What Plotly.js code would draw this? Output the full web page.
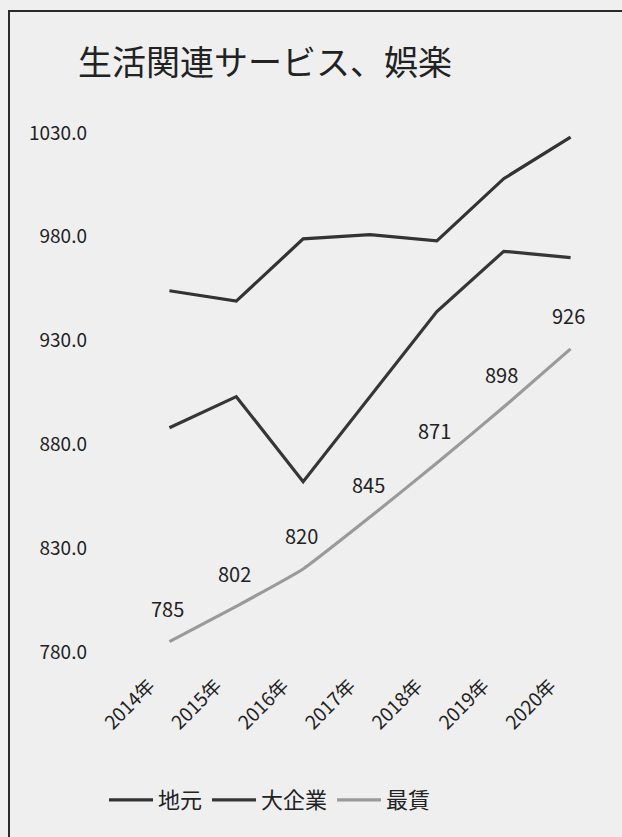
<!DOCTYPE html>
<html>
<head>
<meta charset="utf-8">
<script src="https://cdn.plot.ly/plotly-3.0.1.min.js"></script>
<style>
  html, body { margin:0; padding:0; width:622px; height:837px; overflow:hidden; background:#efefef; }
  #chart { position:absolute; left:0; top:0; width:622px; height:837px; }
  #frame { position:absolute; left:8px; top:10px; width:700px; height:900px; border:2px solid #2a2a2a; pointer-events:none; }
</style>
</head>
<body>
<div id="chart"></div>
<div id="frame"></div>
<script>
const categories = ['2014年','2015年','2016年','2017年','2018年','2019年','2020年'];
const jimoto = [954, 949, 979, 981, 978, 1008, 1028];
const daikigyo = [888, 903, 862, 903, 944, 973, 970];
const saichin = [785, 802, 820, 845, 871, 898, 926];
const yTicks = [780, 830, 880, 930, 980, 1030];
const seriesNames = ['地元', '大企業', '最賃'];

const font = 'Noto Sans CJK JP, Noto Sans, sans-serif';

const traces = [
  { x: categories, y: jimoto, name: seriesNames[0], type: 'scatter', mode: 'lines',
    line: { color: '#333333', width: 3.2 } },
  { x: categories, y: daikigyo, name: seriesNames[1], type: 'scatter', mode: 'lines',
    line: { color: '#363636', width: 3.2 } },
  { x: categories, y: saichin, name: seriesNames[2], type: 'scatter', mode: 'lines',
    line: { color: '#9a9a9a', width: 3.2, shape: 'spline', smoothing: 0.4 } }
];

const annotations = saichin.map((v, i) => ({
  x: categories[i], y: v, xref: 'x', yref: 'y',
  text: String(v), showarrow: false, yshift: 33, xshift: -2,
  font: { family: font, size: 20, color: '#222' }
}));

const layout = {
  width: 622, height: 837,
  paper_bgcolor: '#efefef', plot_bgcolor: 'rgba(0,0,0,0)',
  margin: { l: 136, r: 18, t: 133, b: 185 },
  font: { family: font, color: '#222' },
  title: { text: '生活関連サービス、娯楽', x: 265/622, xref: 'container', xanchor: 'center',
           y: 1 - 63/837, yref: 'container', yanchor: 'middle',
           font: { family: font, size: 34, color: '#222' } },
  xaxis: { type: 'category', range: [-0.5, 6.5], showgrid: false, zeroline: false, showline: false,
           tickangle: -45, tickfont: { family: font, size: 19, color: '#222' }, ticks: '',
           ticklabelstandoff: 18, ticklabelshift: -20 },
  yaxis: { range: [780, 1030], tickvals: yTicks, tickformat: '.1f', showgrid: false, zeroline: false,
           showline: false, ticks: '', ticklabelstandoff: 48,
           tickfont: { family: font, size: 19, color: '#222' } },
  showlegend: true,
  legend: { orientation: 'h', x: (270-136)/468, xanchor: 'center', y: (652-800)/519, yanchor: 'middle',
            font: { family: font, size: 22, color: '#222' }, bgcolor: 'rgba(0,0,0,0)',
            itemwidth: 44, tracegroupgap: 0 },
  annotations: annotations
};

Plotly.newPlot('chart', traces, layout, { displayModeBar: false, staticPlot: true });
</script>
</body>
</html>
